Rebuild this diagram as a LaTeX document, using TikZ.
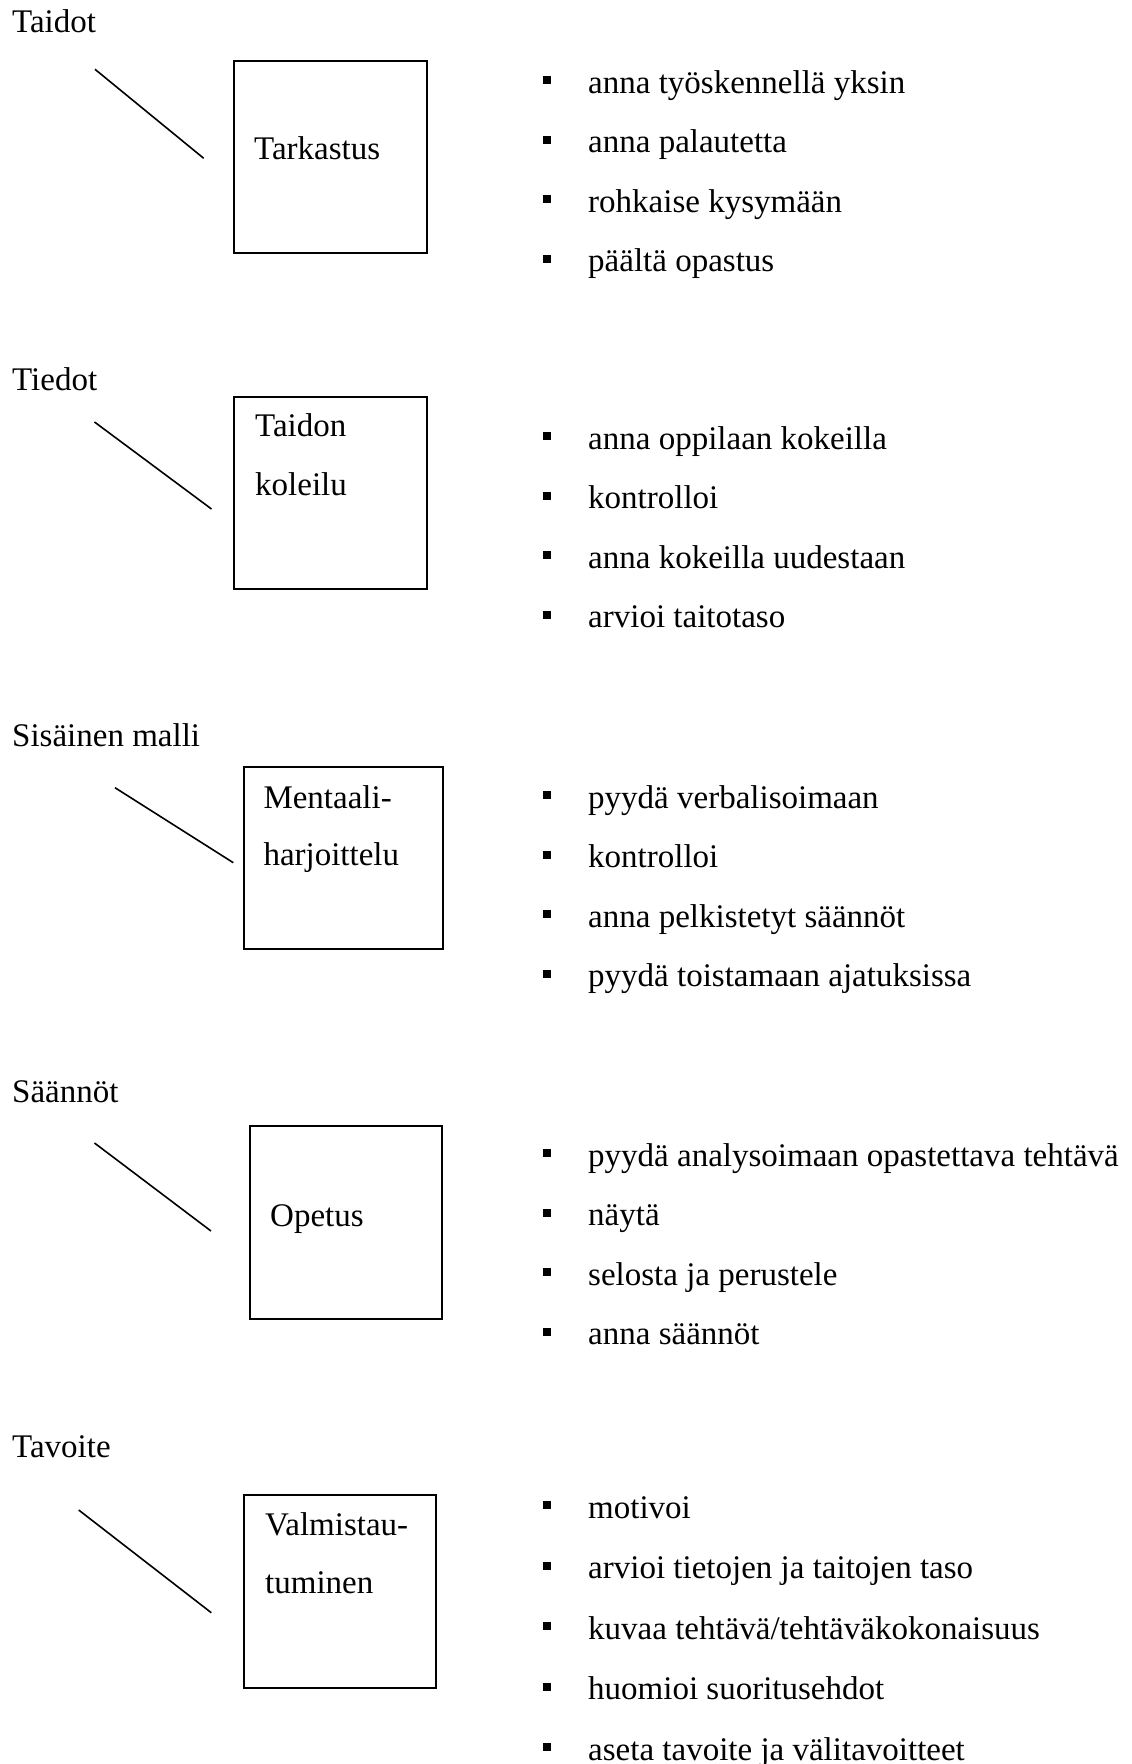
\documentclass[tikz,border=0pt]{standalone}
\usepackage{fontspec}
\setmainfont{Liberation Serif}
\tikzset{
  txt/.style={anchor=base west, inner sep=0pt, font=\fontsize{33}{40}\selectfont},
  bul/.style={fill=black, inner sep=0pt, minimum size=8pt},
  frame/.style={draw, line width=2pt, inner sep=0pt, anchor=north west},
  conn/.style={line width=1.6pt},
}
\begin{document}
\begin{tikzpicture}[x=1pt,y=-1pt]
\fill[white] (0,0) rectangle (1132,1764);
\useasboundingbox (0,0) rectangle (1132,1764);

% headings
\node[txt] (h1) at (12,32.3) {Taidot};
\node[txt] (h2) at (12,390) {Tiedot};
\node[txt] (h3) at (12,746) {Sisäinen malli};
\node[txt] (h4) at (12,1102) {Säännöt};
\node[txt] (h5) at (12,1457) {Tavoite};

% boxes
\node[frame, minimum width=193pt, minimum height=192pt] (b1) at (233,60) {};
\node[frame, minimum width=192.5pt, minimum height=191.5pt] (b2) at (233,396) {};
\node[frame, minimum width=198.4pt, minimum height=182.3pt] (b3) at (243.3,766) {};
\node[frame, minimum width=192.3pt, minimum height=192.6pt] (b4) at (248.7,1125) {};
\node[frame, minimum width=192.3pt, minimum height=192.4pt] (b5) at (243,1494.3) {};

% box texts
\node[txt] (t1) at (254,159) {Tarkastus};
\node[txt] (t2a) at (255,436.7) {Taidon};
\node[txt] (t2b) at (255,495) {koleilu};
\node[txt] (t3a) at (263.3,808.3) {Mentaali-};
\node[txt] (t3b) at (263.3,865.7) {harjoittelu};
\node[txt] (t4) at (270,1226) {Opetus};
\node[txt] (t5a) at (265,1535) {Valmistau-};
\node[txt] (t5b) at (265,1593.3) {tuminen};

% slanted lines
\coordinate (l1a) at (95,69.3);   \coordinate (l1b) at (203.7,158.3);
\coordinate (l2a) at (94.5,422);  \coordinate (l2b) at (211.5,509);
\coordinate (l3a) at (115,787.7); \coordinate (l3b) at (233.3,862.7);
\coordinate (l4a) at (94.5,1143); \coordinate (l4b) at (211,1231);
\coordinate (l5a) at (78.7,1510); \coordinate (l5b) at (211.3,1612.7);
\draw[conn] (l1a) -- (l1b);
\draw[conn] (l2a) -- (l2b);
\draw[conn] (l3a) -- (l3b);
\draw[conn] (l4a) -- (l4b);
\draw[conn] (l5a) -- (l5b);

% bullet lists
\foreach \t [count=\i] in {anna työskennellä yksin, anna palautetta, rohkaise kysymään, päältä opastus}{
  \node[bul] (s1b\i) at (547,{80+59.5*(\i-1)}) {};
  \node[txt] (s1t\i) at (588,{93+59.5*(\i-1)}) {\t};
}
\foreach \t [count=\i] in {anna oppilaan kokeilla, kontrolloi, anna kokeilla uudestaan, arvioi taitotaso}{
  \node[bul] (s2b\i) at (547,{436+59.5*(\i-1)}) {};
  \node[txt] (s2t\i) at (588,{449+59.5*(\i-1)}) {\t};
}
\foreach \t [count=\i] in {pyydä verbalisoimaan, kontrolloi, anna pelkistetyt säännöt, pyydä toistamaan ajatuksissa}{
  \node[bul] (s3b\i) at (547,{795+59.5*(\i-1)}) {};
  \node[txt] (s3t\i) at (588,{808+59.5*(\i-1)}) {\t};
}
\foreach \t [count=\i] in {pyydä analysoimaan opastettava tehtävä, näytä, selosta ja perustele, anna säännöt}{
  \node[bul] (s4b\i) at (547,{1153+59.5*(\i-1)}) {};
  \node[txt] (s4t\i) at (588,{1166+59.5*(\i-1)}) {\t};
}
\foreach \t [count=\i] in {motivoi, arvioi tietojen ja taitojen taso, kuvaa tehtävä/tehtäväkokonaisuus, huomioi suoritusehdot, aseta tavoite ja välitavoitteet}{
  \node[bul] (s5b\i) at (547,{1505+60.6*(\i-1)}) {};
  \node[txt] (s5t\i) at (588,{1518+60.6*(\i-1)}) {\t};
}
\end{tikzpicture}
\end{document}
